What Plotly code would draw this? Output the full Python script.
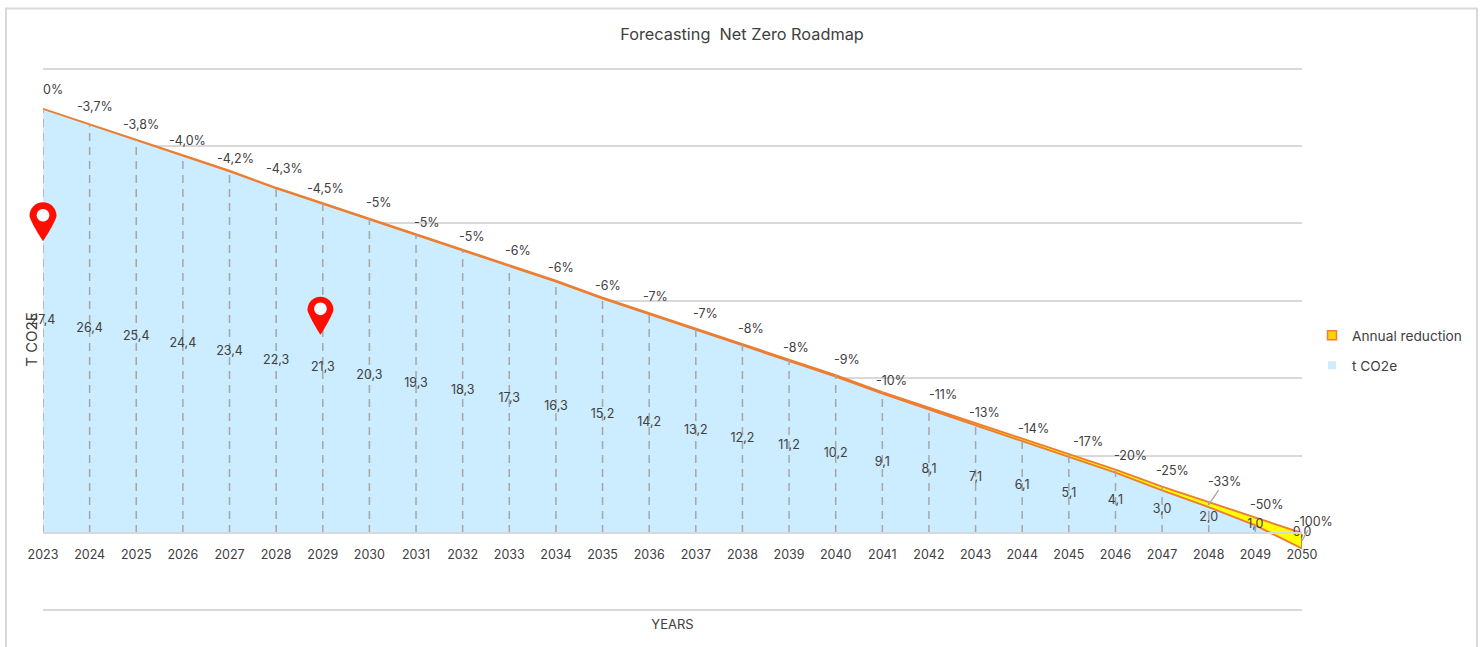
import plotly.graph_objects as go

years = list(range(2023, 2051))
tco2e = [27.4, 26.4, 25.4, 24.4, 23.4, 22.3, 21.3, 20.3, 19.3, 18.3, 17.3, 16.3, 15.2, 14.2,
         13.2, 12.2, 11.2, 10.2, 9.1, 8.1, 7.1, 6.1, 5.1, 4.1, 3.0, 2.0, 1.0, 0.0]
reduction_pct = [0, -3.7, -3.8, -4.0, -4.2, -4.3, -4.5, -5, -5, -5, -6, -6, -6, -7,
                 -7, -8, -8, -9, -10, -11, -13, -14, -17, -20, -25, -33, -50, -100]
reduction_labels = ["0%", "-3,7%", "-3,8%", "-4,0%", "-4,2%", "-4,3%", "-4,5%", "-5%", "-5%", "-5%",
                    "-6%", "-6%", "-6%", "-7%", "-7%", "-8%", "-8%", "-9%", "-10%", "-11%",
                    "-13%", "-14%", "-17%", "-20%", "-25%", "-33%", "-50%", "-100%"]
# hand-placed label offsets (px) from the top of the area
label_dx = [10, 5, 5, 5, 6, 8, 3, 10, 11, 9, 9, 5, 5, 6, 10, 9, 7, 11, 9, 14, 9, 11, 19, 15, 10, 16, 12, 11]
label_dy = [-19, -18, -15, -15, -12, -19, -15, -16, -12, -13, -15, -13, -12, -17, -15, -16, -12, -16, -12, -13,
            -11, -10, -13, -14, -16, -21, -13, -12]
leaders = {2048, 2050}

W, H = 1482, 647
YMIN, YMAX = -5.1, 30.1
PX_PER_UNIT = (610 - 69) / 35
L, R = 43, 1302
T = 69 - 0.1 * PX_PER_UNIT
B = 610 + 0.1 * PX_PER_UNIT
FONT = "Inter, 'Noto Sans', sans-serif"
TXT = "#404040"
ORANGE = "#ED7D31"
GRID = "#D9D9D9"
GRAY = "#A6A6A6"

band_low = [t + p / 100 for t, p in zip(tco2e, reduction_pct)]
value_text = [f"{t:.1f}".replace(".", ",") for t in tco2e]

fig = go.Figure()
fig.add_trace(go.Scatter(x=years, y=tco2e, mode="lines", fill="tozeroy", fillcolor="#CCECFF",
                         line=dict(width=0), showlegend=False, hoverinfo="skip"))
fig.add_trace(go.Scatter(x=years + years[::-1] + years[:1],
                         y=tco2e + band_low[::-1] + tco2e[:1],
                         mode="lines", fill="toself", fillcolor="#FFFF00",
                         line=dict(color=ORANGE, width=1.9), showlegend=False, hoverinfo="skip"))
drop_x, drop_y = [], []
for yr, t in zip(years, tco2e):
    drop_x += [yr, yr, None]
    drop_y += [0, t, None]
fig.add_trace(go.Scatter(x=drop_x, y=drop_y, mode="lines", showlegend=False, hoverinfo="skip",
                         line=dict(color=GRAY, width=1.5, dash="8px,6px")))
fig.add_trace(go.Scatter(x=years, y=[t / 2 for t in tco2e], mode="text", text=value_text,
                         textposition="middle center", cliponaxis=False, showlegend=False,
                         textfont=dict(family=FONT, size=12.5, color=TXT), hoverinfo="skip"))
# legend entries
fig.add_trace(go.Scatter(x=[None], y=[None], mode="markers", name="Annual reduction", legendgroup="a",
                         marker=dict(symbol="square", size=9, color="#FFD400", line=dict(color=ORANGE, width=1.5))))
fig.add_trace(go.Scatter(x=[None], y=[None], mode="markers", name="t CO2e", legendgroup="b",
                         marker=dict(symbol="square", size=8, color="#CCECFF")))

annotations = []
for i, yr in enumerate(years):
    base = dict(x=yr, xref="x", yref="y", text=reduction_labels[i],
                font=dict(family=FONT, size=12.5, color=TXT))
    if yr in leaders:
        mid = (tco2e[i] + band_low[i]) / 2
        annotations.append(dict(base, y=mid, showarrow=True, arrowhead=0, arrowwidth=1.3, arrowcolor=GRAY,
                                ax=label_dx[i], ay=label_dy[i] - (tco2e[i] - mid) * PX_PER_UNIT, standoff=0))
    else:
        annotations.append(dict(base, y=tco2e[i], showarrow=False, xshift=label_dx[i], yshift=-label_dy[i]))

# pin markers
def pin_path(r, h):
    k = r * 0.55
    return (f"M 0 0 C {-r*0.35} {h*0.18} {-r} {h-r*1.25} {-r} {h-r} "
            f"C {-r} {h-r+k} {-k} {h} 0 {h} C {k} {h} {r} {h-r+k} {r} {h-r} "
            f"C {r} {h-r*1.25} {r*0.35} {h*0.18} 0 0 Z")
def hole_path(cy, r):
    k = r * 0.55
    return (f"M {-r} {cy} C {-r} {cy+k} {-k} {cy+r} 0 {cy+r} C {k} {cy+r} {r} {cy+k} {r} {cy} "
            f"C {r} {cy-k} {k} {cy-r} 0 {cy-r} C {-k} {cy-r} {-r} {cy-k} {-r} {cy} Z")
pins = [(2023, 18.85, 13.5, 39, 26), (2028.95, 12.8, 13, 38, 26)]
shapes = [dict(type="rect", xref="paper", yref="paper", layer="below",
               x0=(6 - L) / (R - L), x1=(1477 - L) / (R - L),
               y0=(B - 670) / (B - T), y1=(B - 9) / (B - T), line=dict(color=GRID, width=2))]
for px, py, r, h, cy in pins:
    common = dict(type="path", xref="paper", yref="paper", xsizemode="pixel", ysizemode="pixel",
                  xanchor=(px - years[0]) / (years[-1] - years[0]), yanchor=(py - YMIN) / (YMAX - YMIN), layer="above")
    shapes.append(dict(common, path=pin_path(r, h), fillcolor="#FF0D00", line=dict(width=0)))
    shapes.append(dict(common, path=hole_path(cy, 6.3), fillcolor="#F4FAFD", line=dict(width=0)))

fig.update_layout(
    width=W, height=H,
    margin=dict(l=L, r=W - R, t=T, b=H - B),
    paper_bgcolor="white", plot_bgcolor="white",
    font=dict(family=FONT, size=12.5, color=TXT),
    title=dict(text="Forecasting  Net Zero Roadmap", x=742 / W, xanchor="center", y=1 - 34 / H, yanchor="middle",
               font=dict(family=FONT, size=16.3, color=TXT)),
    xaxis=dict(type="linear", range=[2023, 2050], tickmode="array", tickvals=years, ticktext=[str(y) for y in years],
               anchor="free", position=-YMIN / (YMAX - YMIN), showgrid=False, zeroline=False, showline=True, linecolor=GRID,
               linewidth=2, layer="above traces", ticks="", ticklabelstandoff=10,
               title=dict(text="YEARS", standoff=58, font=dict(family=FONT, size=13, color=TXT))),
    yaxis=dict(range=[YMIN, YMAX], tickmode="linear", tick0=0, dtick=5, showgrid=True, gridcolor=GRID, gridwidth=1.5,
               zeroline=False, showticklabels=False, ticks="",
               title=dict(text="T CO2E", standoff=0, font=dict(family=FONT, size=15, color=TXT))),
    legend=dict(x=(1312 - L) / (R - L), xref="paper", y=(B - 320) / (B - T), yref="paper", xanchor="left", yanchor="top",
                tracegroupgap=9, font=dict(family=FONT, size=13.7, color=TXT), bgcolor="rgba(0,0,0,0)", itemwidth=30),
    annotations=annotations,
    shapes=shapes,
)
fig.write_html("out.html", post_script="document.body.style.margin='0';", config=dict(displayModeBar=False))
